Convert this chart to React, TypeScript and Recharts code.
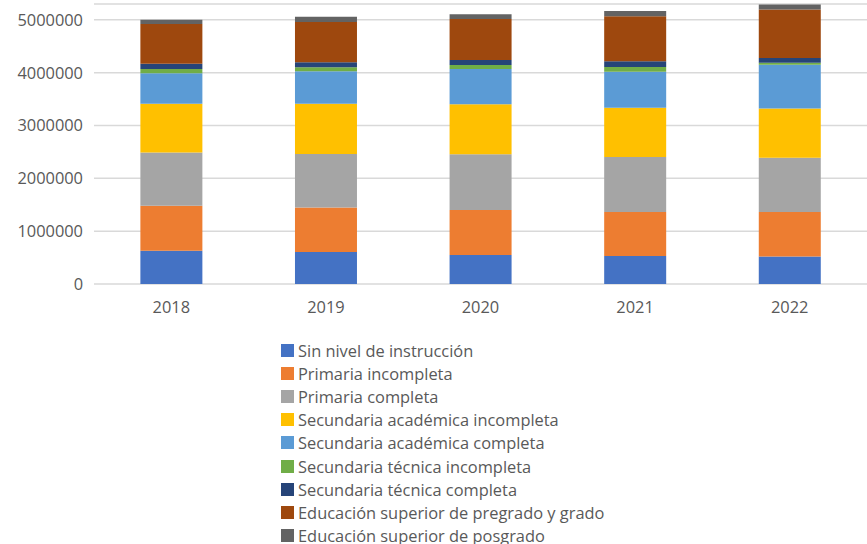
import { BarChart, Bar, XAxis, YAxis, CartesianGrid, Legend } from "recharts";

const years = ["2018", "2019", "2020", "2021", "2022"];

const sinNivel = [630000, 605000, 548000, 529000, 522000];
const primariaIncompleta = [850000, 843000, 851000, 832000, 839000];
const primariaCompleta = [1010000, 1015000, 1058000, 1045000, 1027000];
const secAcadIncompleta = [920000, 951000, 946000, 932000, 932000];
const secAcadCompleta = [580000, 613000, 667000, 681000, 831000];
const secTecIncompleta = [80000, 76000, 76000, 89000, 38000];
const secTecCompleta = [100000, 95000, 94000, 107000, 89000];
const supPregrado = [750000, 761000, 775000, 851000, 919000];
const supPosgrado = [80000, 101000, 89000, 101000, 93000];

const yTicks = [0, 1000000, 2000000, 3000000, 4000000, 5000000];

const series = [
  { key: "sin", name: "Sin nivel de instrucción", color: "#4472C4", values: sinNivel },
  { key: "pi", name: "Primaria incompleta", color: "#ED7D31", values: primariaIncompleta },
  { key: "pc", name: "Primaria completa", color: "#A5A5A5", values: primariaCompleta },
  { key: "sai", name: "Secundaria académica incompleta", color: "#FFC000", values: secAcadIncompleta },
  { key: "sac", name: "Secundaria académica completa", color: "#5B9BD5", values: secAcadCompleta },
  { key: "sti", name: "Secundaria técnica incompleta", color: "#70AD47", values: secTecIncompleta },
  { key: "stc", name: "Secundaria técnica completa", color: "#264478", values: secTecCompleta },
  { key: "esp", name: "Educación superior de pregrado y grado", color: "#9E480E", values: supPregrado },
  { key: "espo", name: "Educación superior de posgrado", color: "#636363", values: supPosgrado },
];

const data = years.map((year, i) => {
  const row: Record<string, string | number> = { year };
  series.forEach((s) => {
    row[s.key] = s.values[i];
  });
  return row;
});

const FONT = "'Open Sans', 'Noto Sans', sans-serif";

function LegendList() {
  return (
    <div style={{ fontFamily: FONT, fontSize: 16.4, color: "#595959" }}>
      {series.map((s) => (
        <div
          key={s.key}
          style={{ display: "flex", alignItems: "center", height: 23.1 }}
        >
          <span
            style={{
              width: 13,
              height: 13,
              background: s.color,
              marginRight: 4,
              display: "inline-block",
            }}
          />
          <span>{s.name}</span>
        </div>
      ))}
    </div>
  );
}

export default function App() {
  return (
    <div style={{ position: "absolute", left: 0, top: 0, width: 867, height: 544, background: "#fff" }}>
      <BarChart
        width={867}
        height={544}
        data={data}
        barCategoryGap="30%"
        margin={{ top: 4, right: 0, left: 0, bottom: 230 }}
      >
        <CartesianGrid vertical={false} stroke="#d9d9d9" strokeWidth={1.5} />
        <XAxis
          dataKey="year"
          axisLine={false}
          tickLine={false}
          tickSize={0}
          tickMargin={17}
          height={30}
          tick={{ fontSize: 16.4, fill: "#595959", fontFamily: FONT }}
        />
        <YAxis
          width={94}
          domain={[0, 5300000]}
          ticks={yTicks}
          allowDataOverflow
          axisLine={false}
          tickLine={false}
          tickSize={0}
          tickMargin={11}
          tick={{ fontSize: 16.4, fill: "#595959", fontFamily: FONT }}
        />
        <Legend
          layout="horizontal"
          verticalAlign="middle"
          content={<LegendList />}
          wrapperStyle={{ top: 339, left: 281, width: 420 }}
        />
        {series.map((s) => (
          <Bar
            key={s.key}
            dataKey={s.key}
            name={s.name}
            stackId="a"
            fill={s.color}
            isAnimationActive={false}
          />
        ))}
      </BarChart>
    </div>
  );
}
